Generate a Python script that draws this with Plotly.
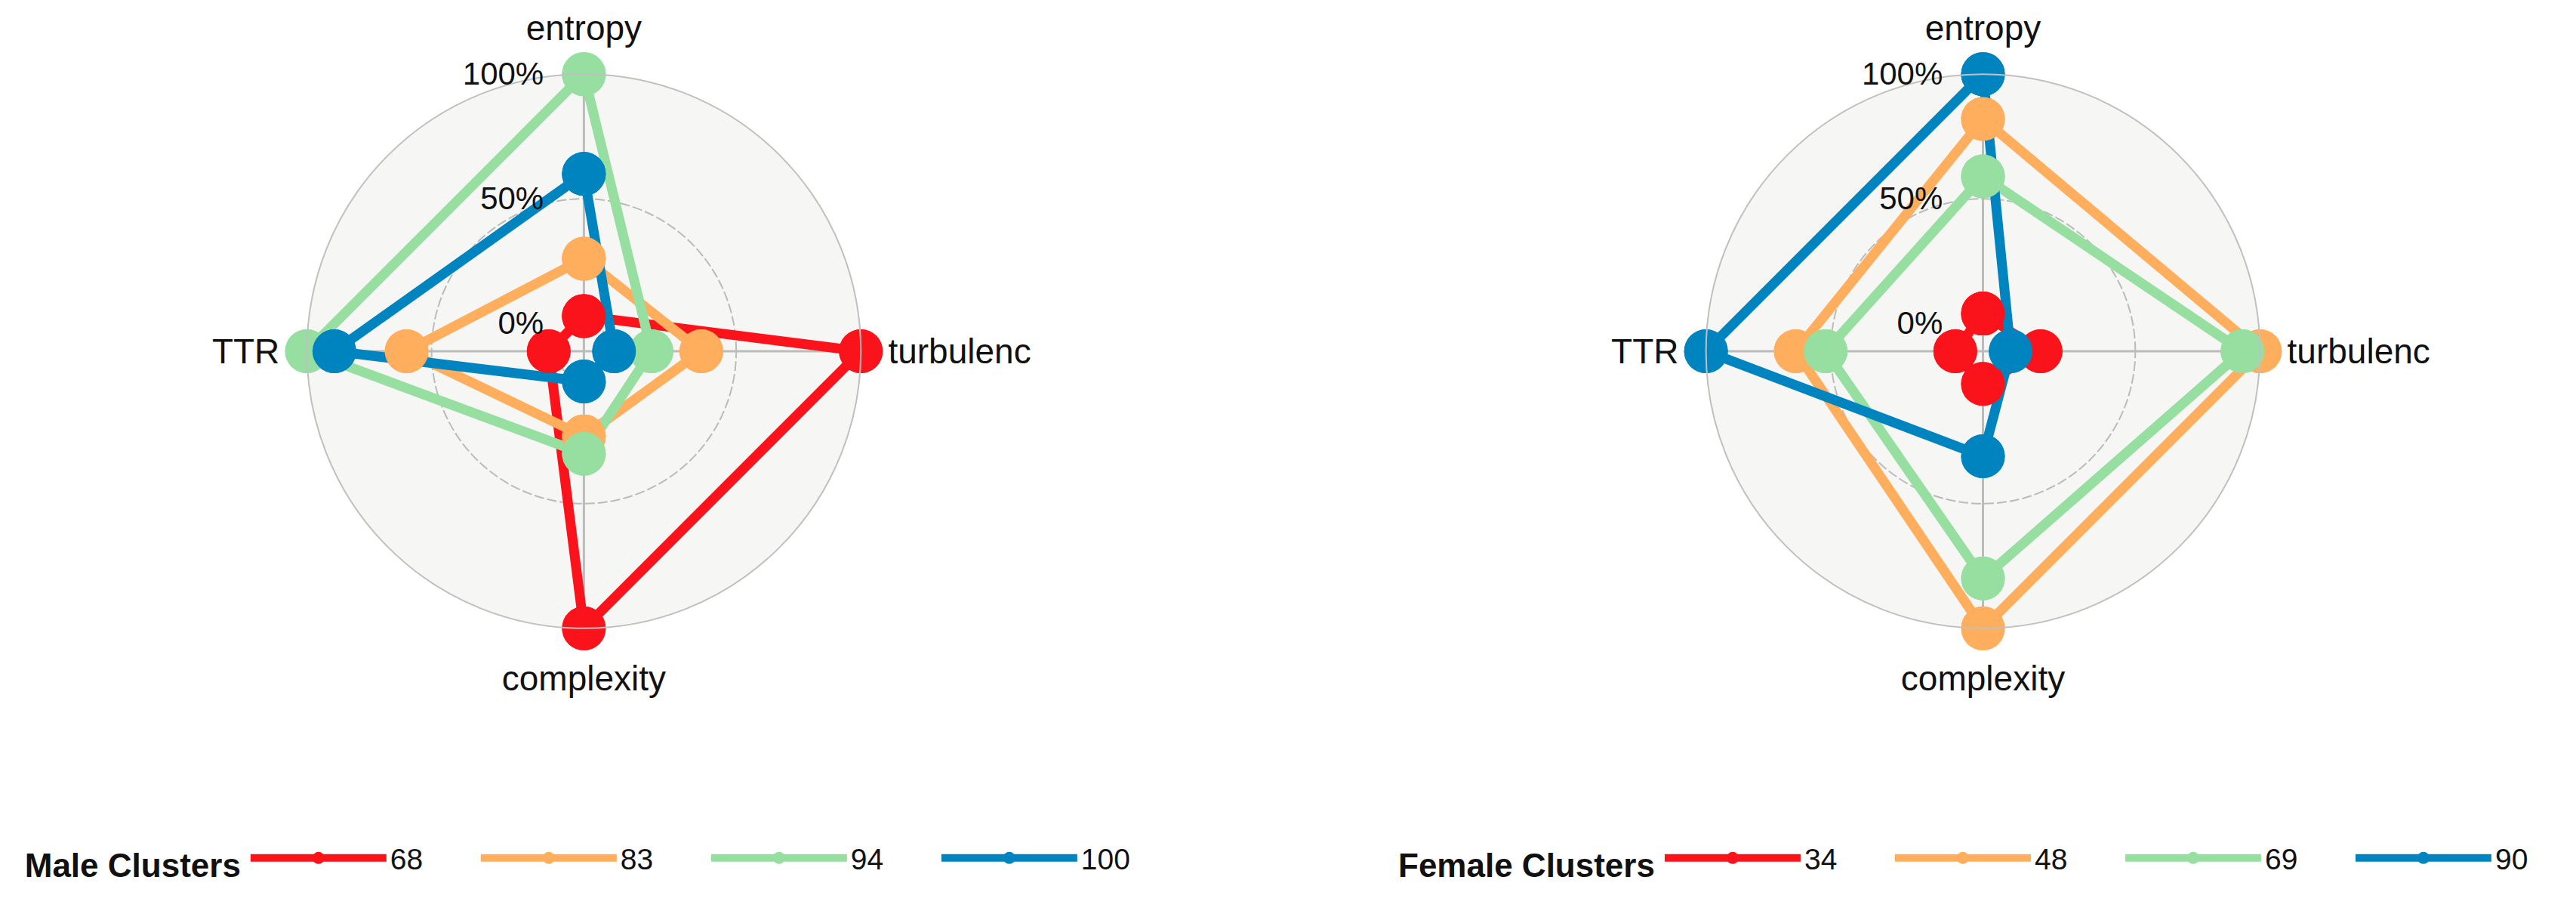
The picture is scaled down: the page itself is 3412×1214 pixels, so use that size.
import plotly.graph_objects as go

# ---------------- data ----------------
categories = ["entropy", "turbulenc", "complexity", "TTR"]
radial_tickvals = [0, 0.5, 1]
radial_ticktext = ["0%", "50%", "100%"]

male_names = ["68", "83", "94", "100"]
male_68 = [0.03, 1.00, 1.00, 0.03]
male_83 = [0.26, 0.36, 0.23, 0.60]
male_94 = [1.00, 0.16, 0.30, 1.00]
male_100 = [0.60, 0.01, 0.01, 0.89]

female_names = ["34", "48", "69", "90"]
female_34 = [0.04, 0.12, 0.02, 0.00]
female_48 = [0.82, 1.00, 1.00, 0.64]
female_69 = [0.59, 0.93, 0.80, 0.52]
female_90 = [1.00, 0.00, 0.31, 1.00]

colors = ["#FB131B", "#FEAE5C", "#96DFA1", "#0084BF"]

FONT = "Liberation Sans, Arial, sans-serif"
centre = -1 / 9  # ggradar-style centre offset

fig = go.Figure()


def add_panel(names, series, polar_id, legend_id):
    # lines (with markers) first, so all points sit above all paths
    for name, vals, col in zip(names, series, colors):
        r = list(vals) + [vals[0]]
        th = categories + [categories[0]]
        fig.add_trace(go.Scatterpolar(
            r=r, theta=th, mode="lines+markers", name=name,
            line=dict(color=col, width=13),
            marker=dict(color=col, size=58),
            subplot=polar_id, legend=legend_id, showlegend=True,
            hoverinfo="skip"))
    for name, vals, col in zip(names, series, colors):
        fig.add_trace(go.Scatterpolar(
            r=list(vals), theta=categories, mode="markers", name=name,
            marker=dict(color=col, size=58),
            subplot=polar_id, legend=legend_id, showlegend=False,
            hoverinfo="skip"))


add_panel(male_names, [male_68, male_83, male_94, male_100], "polar", "legend")
add_panel(female_names, [female_34, female_48, female_69, female_90], "polar2", "legend2")

W, H = 3412, 1214


def polar_layout(cx, cy, R):
    return dict(
        domain=dict(x=[(cx - R) / W, (cx + R) / W],
                    y=[1 - (cy + R) / H, 1 - (cy - R) / H]),
        bgcolor="#F6F6F4",
        radialaxis=dict(
            range=[centre, 1], tickvals=radial_tickvals, ticktext=radial_ticktext,
            angle=90, side="counterclockwise", showline=False, tickangle=90,
            ticks="outside", ticklen=38, tickcolor="rgba(0,0,0,0)",
            gridcolor="#BBBBBB", gridwidth=2, griddash="13px,4px",
            tickfont=dict(size=42, color="#111111", family=FONT),
            layer="above traces"),
        angularaxis=dict(
            categoryarray=categories, categoryorder="array",
            direction="clockwise", rotation=90,
            showline=True, linecolor="#C0C0C0", linewidth=2,
            gridcolor="#BBBBBB", gridwidth=3,
            ticks="outside", ticklen=26, tickcolor="rgba(0,0,0,0)",
            tickfont=dict(size=46, color="#111111", family=FONT)),
    )


def legend_layout(x, title):
    return dict(
        orientation="h", x=x, xanchor="left", y=1 - 1130 / H, yanchor="middle",
        title=dict(text="<b>" + title + "</b>", side="left",
                   font=dict(size=44, family=FONT, color="#111111")),
        font=dict(size=39, family=FONT, color="#111111"),
        itemwidth=180, entrywidth=110, entrywidthmode="pixels",
        bgcolor="rgba(0,0,0,0)", traceorder="normal")


fig.update_layout(
    width=W, height=H, margin=dict(l=0, r=0, t=0, b=0),
    paper_bgcolor="white", plot_bgcolor="white",
    font=dict(family=FONT, color="#111111"),
    polar=polar_layout(774, 457, 371),
    polar2=polar_layout(2648, 457, 371),
    legend=legend_layout(23 / W, "Male Clusters"),
    legend2=legend_layout(1863 / W, "Female Clusters"),
)

fig.write_html("out.html")
